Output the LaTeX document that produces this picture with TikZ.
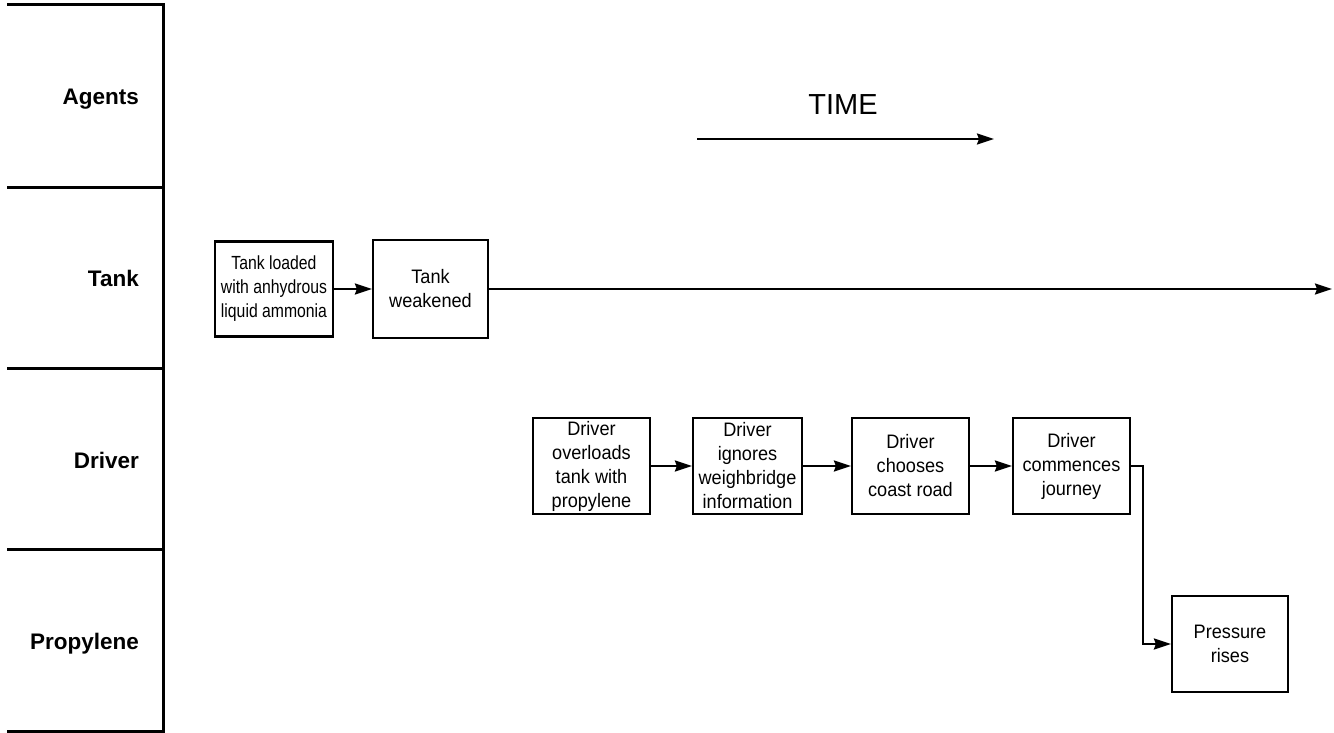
\documentclass[tikz,border=0pt]{standalone}
\usepackage{fontspec}
\setmainfont{Liberation Sans}
\newfontfamily\narrowfont{Liberation Sans}[FakeStretch=0.83]
\newfontfamily\boxfont{Liberation Sans}[FakeStretch=0.93]
\usetikzlibrary{arrows.meta}
\begin{document}
\begin{tikzpicture}[x=1pt,y=-1pt,
  frame/.style={line width=3pt, line cap=rect},
  lane/.style={font=\fontsize{22.5}{27}\selectfont\bfseries, anchor=mid east, inner sep=0pt},
  event/.style={draw, line width=2.2pt, align=center, inner sep=0pt,
    minimum width=117pt, minimum height=96pt, font={\boxfont\fontsize{19.5}{24}\selectfont}},
  flow/.style={line width=2.3pt, -{Stealth[length=17pt,width=11pt,inset=2pt]}},
]
\useasboundingbox (0,0) rectangle (1334,732);

% lane frame on the left
\draw[frame] (8,4) -- (163,4) -- (163,731) -- (8,731);
\draw[frame] (8,187) -- (163,187);
\draw[frame] (8,368) -- (163,368);
\draw[frame] (8,549) -- (163,549);

% lane titles
\node[lane] (agents) at (139,102) {Agents};
\node[lane] (tank)   at (139,284) {Tank};
\node[lane] (driver) at (139,466) {Driver};
\node[lane] (prop)   at (139,647) {Propylene};

% time direction
\node[font=\fontsize{29}{34}\selectfont, anchor=base, inner sep=0pt] (time) at (843,114) {TIME};
\coordinate (t0) at (697,139);
\coordinate (t1) at (994,139);
\draw[flow] (t0) -- (t1);

% tank lane
\node[event, minimum width=118pt, minimum height=95pt,
      font={\narrowfont\fontsize{19}{24}\selectfont}] (b1) at (274,289)
  {Tank loaded\\with anhydrous\\liquid ammonia};
\node[event, minimum width=115pt, minimum height=98pt] (b2) at (430.5,289)
  {Tank\\weakened};
\coordinate (tankend) at (1332,289);
\draw[flow] (b1.east) -- (b2.west);
\draw[flow] (b2.east) -- (tankend);

% driver lane
\node[event] (b3) at (591.5,466) {Driver\\overloads\\tank with\\propylene};
\node[event, minimum width=109pt] (b4) at (747.5,466) {Driver\\ignores\\weighbridge\\information};
\node[event] (b5) at (910.5,466) {Driver\\chooses\\coast road};
\node[event] (b6) at (1071.5,466) {Driver\\commences\\journey};
\draw[flow] (b3.east) -- (b4.west);
\draw[flow] (b4.east) -- (b5.west);
\draw[flow] (b5.east) -- (b6.west);

% propylene lane
\node[event, minimum width=116pt] (b7) at (1230,644) {Pressure\\rises};
\draw[flow] (b6.east) -- ++(12,0) |- (b7.west);
\end{tikzpicture}
\end{document}
